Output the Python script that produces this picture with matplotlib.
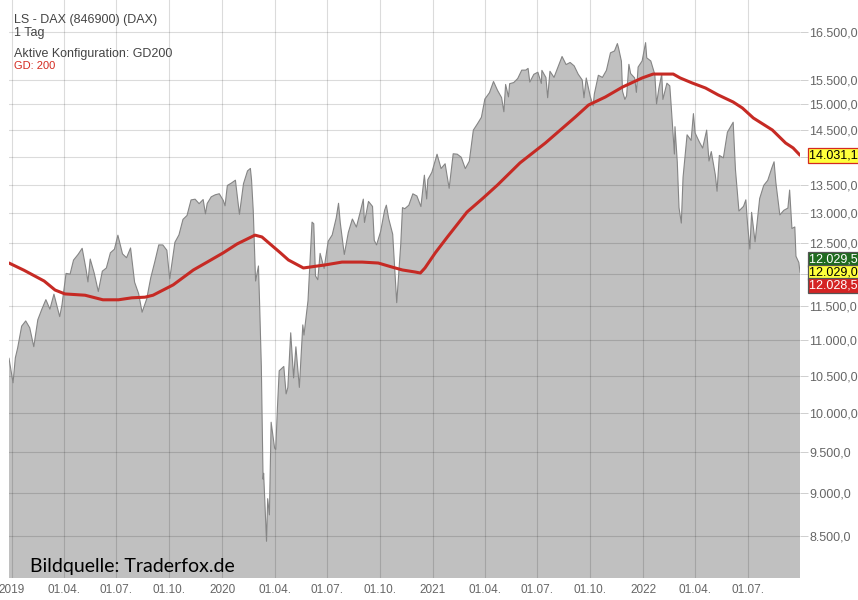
import matplotlib
matplotlib.use("Agg")
import matplotlib.pyplot as plt
import matplotlib.dates as mdates
from matplotlib.ticker import NullLocator, FixedLocator, FixedFormatter
import pandas as pd

# ---------------- data ----------------
price_dates = [
    "2018-12-27", "2019-01-03", "2019-01-07", "2019-01-11", "2019-01-18", "2019-01-25",
    "2019-02-01", "2019-02-08", "2019-02-15", "2019-02-22", "2019-03-01", "2019-03-08",
    "2019-03-15", "2019-03-25", "2019-03-29", "2019-04-05", "2019-04-12", "2019-04-18",
    "2019-04-26", "2019-05-03", "2019-05-10", "2019-05-13", "2019-05-17", "2019-05-24",
    "2019-05-31", "2019-06-07", "2019-06-14", "2019-06-21", "2019-06-28", "2019-07-04",
    "2019-07-12", "2019-07-19", "2019-07-26", "2019-08-02", "2019-08-09", "2019-08-15",
    "2019-08-23", "2019-08-30", "2019-09-06", "2019-09-13", "2019-09-20", "2019-09-27",
    "2019-10-02", "2019-10-11", "2019-10-18", "2019-10-25", "2019-11-01", "2019-11-08",
    "2019-11-15", "2019-11-22", "2019-11-29", "2019-12-03", "2019-12-06", "2019-12-13",
    "2019-12-20", "2019-12-27", "2020-01-03", "2020-01-06", "2020-01-10", "2020-01-17",
    "2020-01-24", "2020-01-31", "2020-02-07", "2020-02-14", "2020-02-19", "2020-02-21",
    "2020-02-24", "2020-02-28", "2020-03-04", "2020-03-06", "2020-03-09", "2020-03-12",
    "2020-03-13", "2020-03-16", "2020-03-18", "2020-03-20", "2020-03-23", "2020-03-26",
    "2020-04-01", "2020-04-03", "2020-04-06", "2020-04-09", "2020-04-17", "2020-04-21",
    "2020-04-24", "2020-04-29", "2020-05-04", "2020-05-08", "2020-05-14", "2020-05-20",
    "2020-05-22", "2020-05-29", "2020-06-05", "2020-06-08", "2020-06-11", "2020-06-15",
    "2020-06-19", "2020-06-26", "2020-07-03", "2020-07-10", "2020-07-17", "2020-07-21",
    "2020-07-24", "2020-07-31", "2020-08-07", "2020-08-14", "2020-08-21", "2020-08-28",
    "2020-09-02", "2020-09-04", "2020-09-11", "2020-09-18", "2020-09-21", "2020-09-25",
    "2020-10-02", "2020-10-09", "2020-10-12", "2020-10-16", "2020-10-23", "2020-10-30",
    "2020-11-06", "2020-11-09", "2020-11-13", "2020-11-20", "2020-11-27", "2020-12-04",
    "2020-12-11", "2020-12-17", "2020-12-21", "2020-12-23", "2020-12-30", "2021-01-08",
    "2021-01-15", "2021-01-22", "2021-01-29", "2021-02-05", "2021-02-12", "2021-02-19",
    "2021-02-26", "2021-03-05", "2021-03-12", "2021-03-19", "2021-03-26", "2021-04-01",
    "2021-04-09", "2021-04-16", "2021-04-23", "2021-04-30", "2021-05-04", "2021-05-07",
    "2021-05-12", "2021-05-14", "2021-05-21", "2021-05-28", "2021-06-04", "2021-06-11",
    "2021-06-15", "2021-06-18", "2021-06-25", "2021-07-02", "2021-07-08", "2021-07-09",
    "2021-07-16", "2021-07-19", "2021-07-23", "2021-07-30", "2021-08-06", "2021-08-13",
    "2021-08-20", "2021-08-27", "2021-09-03", "2021-09-10", "2021-09-17", "2021-09-20",
    "2021-09-24", "2021-10-01", "2021-10-06", "2021-10-08", "2021-10-15", "2021-10-22",
    "2021-10-29", "2021-11-05", "2021-11-12", "2021-11-17", "2021-11-19", "2021-11-24",
    "2021-11-26", "2021-11-30", "2021-12-03", "2021-12-07", "2021-12-10", "2021-12-17",
    "2021-12-20", "2021-12-23", "2021-12-30", "2022-01-05", "2022-01-07", "2022-01-14",
    "2022-01-21", "2022-01-24", "2022-01-28", "2022-02-02", "2022-02-04", "2022-02-11",
    "2022-02-16", "2022-02-18", "2022-02-24", "2022-02-25", "2022-03-01", "2022-03-04",
    "2022-03-08", "2022-03-11", "2022-03-18", "2022-03-25", "2022-03-29", "2022-04-01",
    "2022-04-08", "2022-04-14", "2022-04-21", "2022-04-25", "2022-04-29", "2022-05-06",
    "2022-05-09", "2022-05-13", "2022-05-20", "2022-05-27", "2022-06-06", "2022-06-10",
    "2022-06-16", "2022-06-24", "2022-06-28", "2022-07-01", "2022-07-05", "2022-07-08",
    "2022-07-14", "2022-07-22", "2022-07-29", "2022-08-05", "2022-08-12", "2022-08-16",
    "2022-08-19", "2022-08-26", "2022-09-02", "2022-09-09", "2022-09-12", "2022-09-16",
    "2022-09-21", "2022-09-23", "2022-09-28", "2022-09-30",
]
price_values = [
    10740, 10400, 10747, 10887, 11205, 11282,
    11180, 10906, 11299, 11457, 11602, 11458,
    11686, 11346, 11526, 12010, 11999, 12222,
    12315, 12413, 12060, 11876, 12239, 12011,
    11727, 12045, 12096, 12340, 12399, 12629,
    12323, 12260, 12419, 11872, 11694, 11412,
    11612, 11939, 12192, 12469, 12468, 12381,
    11925, 12512, 12634, 12895, 12961, 13229,
    13242, 13164, 13236, 12989, 13167, 13283,
    13319, 13337, 13219, 13127, 13483, 13526,
    13577, 12982, 13514, 13744, 13789, 13579,
    13035, 11890, 12128, 11542, 10625, 9161,
    9232, 8742, 8442, 8929, 8741, 9874,
    9544, 9526, 10075, 10565, 10626, 10249,
    10336, 11107, 10467, 10904, 10337, 11223,
    11074, 11587, 12848, 12820, 11970, 11911,
    12331, 12089, 12528, 12633, 12920, 13171,
    12838, 12313, 12675, 12901, 12765, 13033,
    13243, 12843, 13203, 13116, 12542, 12469,
    12689, 13051, 13138, 12909, 12646, 11556,
    12480, 13096, 13077, 13137, 13336, 13298,
    13114, 13667, 13246, 13587, 13719, 14049,
    13787, 13874, 13433, 14057, 14050, 13993,
    13786, 13921, 14502, 14621, 14749, 15107,
    15234, 15460, 15280, 15136, 14857, 15400,
    15150, 15416, 15438, 15520, 15693, 15693,
    15729, 15448, 15607, 15650, 15421, 15688,
    15540, 15133, 15669, 15544, 15761, 15977,
    15808, 15852, 15781, 15609, 15490, 15132,
    15532, 15156, 14973, 15206, 15587, 15543,
    15688, 16054, 16094, 16251, 16160, 15878,
    15257, 15100, 15170, 15813, 15623, 15532,
    15240, 15756, 15885, 16271, 15948, 15883,
    15603, 15011, 15318, 15613, 15100, 15425,
    15370, 15042, 14052, 14567, 13905, 13094,
    12832, 13628, 14413, 14306, 14820, 14446,
    14284, 14163, 14502, 13924, 14098, 13674,
    13381, 14027, 13982, 14462, 14653, 13762,
    13038, 13118, 13231, 12813, 12401, 13015,
    12519, 13254, 13484, 13574, 13795, 13910,
    13544, 12971, 13050, 13088, 13402, 12741,
    12767, 12284, 12183, 12029,
]

ma_dates = [
    "2018-12-27", "2019-01-22", "2019-02-26", "2019-03-17", "2019-04-03", "2019-05-08",
    "2019-06-08", "2019-07-05", "2019-07-28", "2019-08-20", "2019-09-03", "2019-10-08",
    "2019-11-12", "2019-12-06", "2020-01-03", "2020-01-27", "2020-02-27", "2020-03-10",
    "2020-04-11", "2020-04-25", "2020-05-21", "2020-06-28", "2020-07-27", "2020-08-31",
    "2020-09-28", "2020-10-22", "2020-11-09", "2020-12-01", "2020-12-10", "2020-12-18",
    "2021-01-05", "2021-01-26", "2021-03-01", "2021-03-29", "2021-04-23", "2021-06-01",
    "2021-07-15", "2021-08-10", "2021-09-05", "2021-09-28", "2021-10-27", "2021-11-26",
    "2021-12-30", "2022-01-18", "2022-02-22", "2022-03-06", "2022-03-27", "2022-04-19",
    "2022-05-11", "2022-06-06", "2022-06-22", "2022-07-11", "2022-08-13", "2022-09-05",
    "2022-09-18", "2022-09-30",
]
ma_values = [
    12175, 12060, 11890, 11750, 11690, 11670,
    11600, 11600, 11630, 11640, 11670, 11830,
    12064, 12190, 12340, 12485, 12630, 12600,
    12340, 12224, 12096, 12145, 12190, 12190,
    12175, 12110, 12064, 12032, 12016, 12096,
    12340, 12600, 13020, 13262, 13492, 13890,
    14258, 14504, 14754, 14989, 15147, 15348,
    15532, 15612, 15612, 15532, 15429, 15328,
    15189, 15048, 14930, 14735, 14504, 14258,
    14166, 14031.11,
]

y_ticks = [8500, 9000, 9500, 10000, 10500, 11000, 11500, 12000, 12500,
           13000, 13500, 14000, 14500, 15000, 15500, 16500]
y_tick_labels = ["8.500,0", "9.000,0", "9.500,0", "10.000,0", "10.500,0", "11.000,0",
                 "11.500,0", "", "12.500,0", "13.000,0", "13.500,0", "",
                 "14.500,0", "15.000,0", "15.500,0", "16.500,0"]

x_tick_dates = ["2019-01-01", "2019-04-01", "2019-07-01", "2019-10-01",
                "2020-01-01", "2020-04-01", "2020-07-01", "2020-10-01",
                "2021-01-01", "2021-04-01", "2021-07-01", "2021-10-01",
                "2022-01-01", "2022-04-01", "2022-07-01"]
x_tick_labels = ["2019", "01.04.", "01.07.", "01.10.",
                 "2020", "01.04.", "01.07.", "01.10.",
                 "2021", "01.04.", "01.07.", "01.10.",
                 "2022", "01.04.", "01.07."]

header_lines = ["LS - DAX (846900) (DAX)", "1 Tag", "Aktive Konfiguration: GD200"]
ma_label = "GD: 200"
watermark = "Bildquelle: Traderfox.de"

ma_tag = ("14.031,11", 14031.11)
quote_tags = [("12.029,5", "#1f6b1f", "white", 13),
              ("12.029,0", "#ffff3c", "black", 0),
              ("12.028,5", "#d42424", "white", -13)]
quote_value = 12029.0

# ---------------- figure ----------------
W, H = 858, 600
fig = plt.figure(figsize=(W / 100, H / 100), dpi=100)
ax = fig.add_axes([9 / W, 22 / H, 791 / W, 578 / H])

pdates = pd.to_datetime(price_dates)
mdates_ = pd.to_datetime(ma_dates)

ax.set_yscale("log")
ax.set_ylim(8044, 17210)
ax.set_xlim(pdates[0], pdates[-1])

ax.fill_between(pdates, price_values, 1000, color="#c0c0c0", lw=0, zorder=1)
ax.plot(pdates, price_values, color="#858585", lw=0.8, zorder=3)
ax.plot(mdates_, ma_values, color="#c62a24", lw=2.2, zorder=4, solid_capstyle="round")

# grid lines
grid_col = (0, 0, 0, 0.14)
for v in y_ticks:
    ax.axhline(v, color=grid_col, lw=0.8, zorder=2)
for d in pd.to_datetime(x_tick_dates):
    ax.axvline(d, color=grid_col, lw=0.8, zorder=2)

for s in ax.spines.values():
    s.set_visible(False)

ax.yaxis.tick_right()
ax.yaxis.set_major_locator(FixedLocator(y_ticks))
ax.yaxis.set_major_formatter(FixedFormatter(y_tick_labels))
ax.yaxis.set_minor_locator(NullLocator())
ax.tick_params(axis="y", which="major", length=5.5, width=0.7, color="#cfcfcf",
               pad=1, labelsize=9, labelcolor="#666666")
for t in ax.get_yticklabels():
    t.set_family("Liberation Sans")

ax.set_xticks(pd.to_datetime(x_tick_dates))
ax.set_xticklabels(x_tick_labels)
ax.xaxis.set_minor_locator(NullLocator())
ax.tick_params(axis="x", length=0, pad=4, labelsize=8.5, labelcolor="#666666")
for t in ax.get_xticklabels():
    t.set_family("Liberation Sans")

# header texts
txt_col = "#444444"
baselines = [23, 36, 57]
for line, b in zip(header_lines, baselines):
    fig.text(14 / W, 1 - b / H, line, fontsize=9, family="Liberation Sans",
             color=txt_col, va="baseline", ha="left")
fig.text(14 / W, 1 - 69 / H, ma_label, fontsize=8, family="Liberation Sans",
         color="#d42a20", va="baseline", ha="left")

# watermark
wm = fig.text(30 / W, 28 / H, watermark, fontsize=15, family="Lato",
              color="black", va="baseline", ha="left", zorder=6)
fig.canvas.draw()
w = wm.get_window_extent().width
wm.set_fontsize(15 * 205 / w)

# price tags on right
def add_tag(label, y_disp, fc, tc, ec):
    yf = y_disp / H
    fig.text(809 / W, yf, label + "   ", fontsize=9, family="Liberation Sans",
             color=tc, va="center", ha="left", zorder=10,
             bbox=dict(boxstyle="square,pad=0.12", fc=fc, ec=ec, lw=0.9))

y_ma = ax.transData.transform((mdates.date2num(pdates[-1]), ma_tag[1]))[1]
add_tag(ma_tag[0], y_ma, "#ffff3c", "black", "#d42a20")
y_q = ax.transData.transform((mdates.date2num(pdates[-1]), quote_value))[1]
for label, fc, tc, off in quote_tags:
    add_tag(label, y_q + off, fc, tc, "#555555")

fig.savefig("out.png", dpi=100)
